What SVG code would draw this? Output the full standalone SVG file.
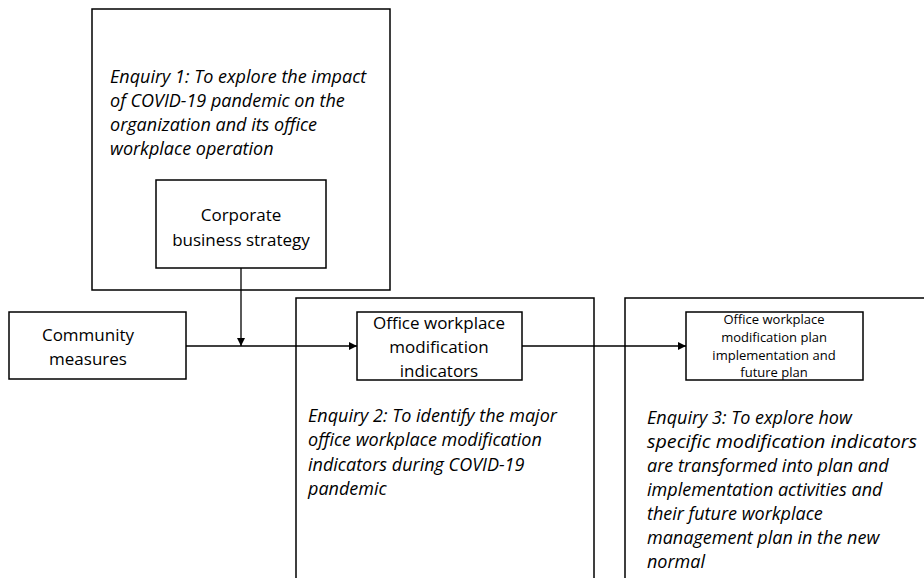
<svg xmlns="http://www.w3.org/2000/svg" width="924" height="578" viewBox="0 0 924 578">
<defs>
<style>
.box{fill:#fff;stroke:#000;stroke-width:1.5}
.t{font-family:"Open Sans","Liberation Sans",sans-serif;font-size:17px;fill:#000}
.i{font-style:italic;font-size:18px}
.s{font-size:13px}
.c{text-anchor:middle}
.ln{stroke:#000;stroke-width:1.3;fill:none}
</style>
<marker id="ah" markerWidth="8" markerHeight="8" refX="8" refY="4" orient="auto" markerUnits="userSpaceOnUse">
<path d="M0,0 L8,4 L0,8 Z" fill="#000"/>
</marker>
</defs>
<rect width="924" height="578" fill="#fff"/>
<g id="enquiry1">
<rect class="box" x="92" y="9" width="298" height="281"/>
<text class="t i" x="110" y="83">Enquiry 1: To explore the impact</text>
<text class="t i" x="110" y="107">of COVID-19 pandemic on the</text>
<text class="t i" x="110" y="131">organization and its office</text>
<text class="t i" x="110" y="155">workplace operation</text>
</g>
<g id="enquiry2">
<rect class="box" x="296" y="298" width="298" height="290"/>
<text class="t i" x="308" y="422">Enquiry 2: To identify the major</text>
<text class="t i" x="308" y="446">office workplace modification</text>
<text class="t i" x="308" y="471">indicators during COVID-19</text>
<text class="t i" x="308" y="495">pandemic</text>
</g>
<g id="enquiry3">
<rect class="box" x="625" y="298" width="310" height="290"/>
<text class="t i" x="647" y="424">Enquiry 3: To explore how</text>
<text class="t i" x="647" y="448" textLength="270" lengthAdjust="spacingAndGlyphs">specific modification indicators</text>
<text class="t i" x="647" y="472">are transformed into plan and</text>
<text class="t i" x="647" y="496">implementation activities and</text>
<text class="t i" x="647" y="520">their future workplace</text>
<text class="t i" x="647" y="544">management plan in the new</text>
<text class="t i" x="647" y="568">normal</text>
</g>
<g id="corporate">
<rect class="box" x="156" y="180" width="170" height="88"/>
<text class="t c" x="241" y="221">Corporate</text>
<text class="t c" x="241" y="246">business strategy</text>
</g>
<g id="community">
<rect class="box" x="9" y="312" width="177" height="67"/>
<text class="t c" x="88" y="341">Community</text>
<text class="t c" x="88" y="365">measures</text>
</g>
<g id="indicators">
<rect class="box" x="357" y="312" width="165" height="68"/>
<text class="t c" x="439" y="329">Office workplace</text>
<text class="t c" x="439" y="353">modification</text>
<text class="t c" x="439" y="377">indicators</text>
</g>
<g id="plan">
<rect class="box" x="686" y="312" width="177" height="68"/>
<text class="t s c" x="774" y="324">Office workplace</text>
<text class="t s c" x="774" y="342">modification plan</text>
<text class="t s c" x="774" y="360">implementation and</text>
<text class="t s c" x="774" y="377">future plan</text>
</g>
<g id="connectors">
<line class="ln" x1="241" y1="268" x2="241" y2="346" marker-end="url(#ah)"/>
<line class="ln" x1="186" y1="346" x2="357" y2="346" marker-end="url(#ah)"/>
<line class="ln" x1="522" y1="346" x2="686" y2="346" marker-end="url(#ah)"/>
</g>
</svg>
